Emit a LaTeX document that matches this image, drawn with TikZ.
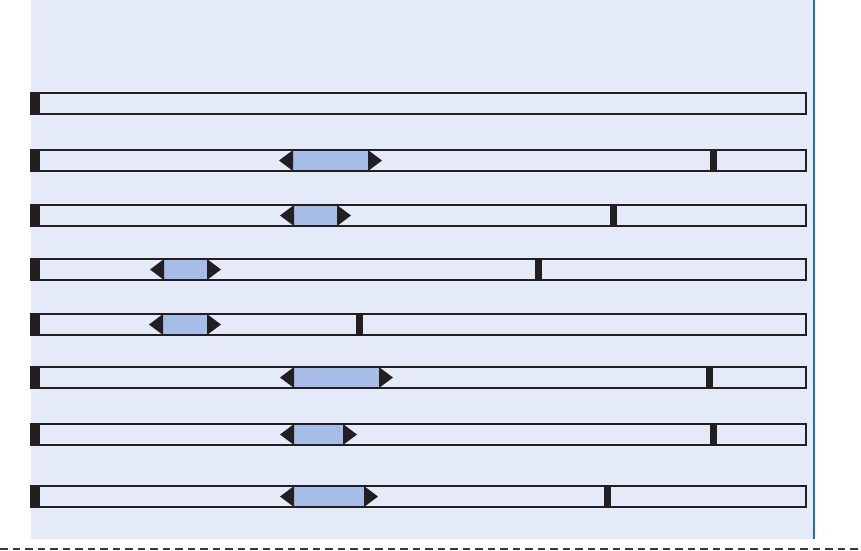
\documentclass[tikz,border=0pt]{standalone}
\usepackage{xcolor}
\usepackage{tikz}
\usetikzlibrary{calc}
\definecolor{panelbg}{HTML}{E4EAF7}
\definecolor{windowblue}{HTML}{A6BEE7}
\definecolor{edgeblue}{HTML}{1C6EC1}
\definecolor{inkblack}{HTML}{231F20}
\definecolor{dashgray}{HTML}{3A3A3A}
\tikzset{
every picture/.style={line cap=butt,line join=miter},
track bar/.style={
  draw=inkblack,
  fill=panelbg,
  line width=1.2pt,
  minimum width=775pt,
  minimum height=21pt,
  inner sep=0pt,
  outer sep=0pt
},
start cap/.style={fill=inkblack},
stop mark/.style={fill=inkblack},
window box/.style={fill=windowblue},
window tip/.style={fill=inkblack},
panel edge/.style={draw=edgeblue, line width=2pt},
page cut/.style={draw=dashgray, line width=1.3pt, dash pattern=on 7.5pt off 5pt}
}

\begin{document}
\begin{tikzpicture}[x=1pt,y=-1pt]
\useasboundingbox (0,0) rectangle (861,550);
% panel
\fill[panelbg] (31,0) rectangle (813,539);
\draw[panel edge] (814,0) -- (814,539);
\coordinate (cutL) at (0,549);
\coordinate (cutR) at (861,549);
\draw[page cut] (cutL) -- (cutR);
% first row, no window
\node[track bar] (row1) at (418.5,103.5) {};
\fill[start cap] (row1.north west) rectangle ++(9,21);
% rows with a window and a stop mark
\foreach \i/\t/\bs/\be/\mk in {2/150/293/368/710,3/205/294/337/610,4/259/164/207/535,5/314/163/207/356,6/367/294/379/706,7/424/294/343/710,8/486/294/364/604}{
  \node[track bar] (row\i) at (418.5,\t+10.5) {};
  \fill[window box] (\bs,\t) rectangle (\be,\t+21);
  \fill[window tip] (\bs,\t) -- (\bs-14,\t+10.5) -- (\bs,\t+21) -- cycle;
  \fill[window tip] (\be,\t) -- (\be+14,\t+10.5) -- (\be,\t+21) -- cycle;
  \draw[draw=inkblack,line width=1.2pt] (row\i.north west) rectangle (row\i.south east);
  \fill[start cap] (row\i.north west) rectangle ++(9,21);
  \fill[stop mark] (\mk,\t) rectangle (\mk+7,\t+21);
}
\end{tikzpicture}
\end{document}
